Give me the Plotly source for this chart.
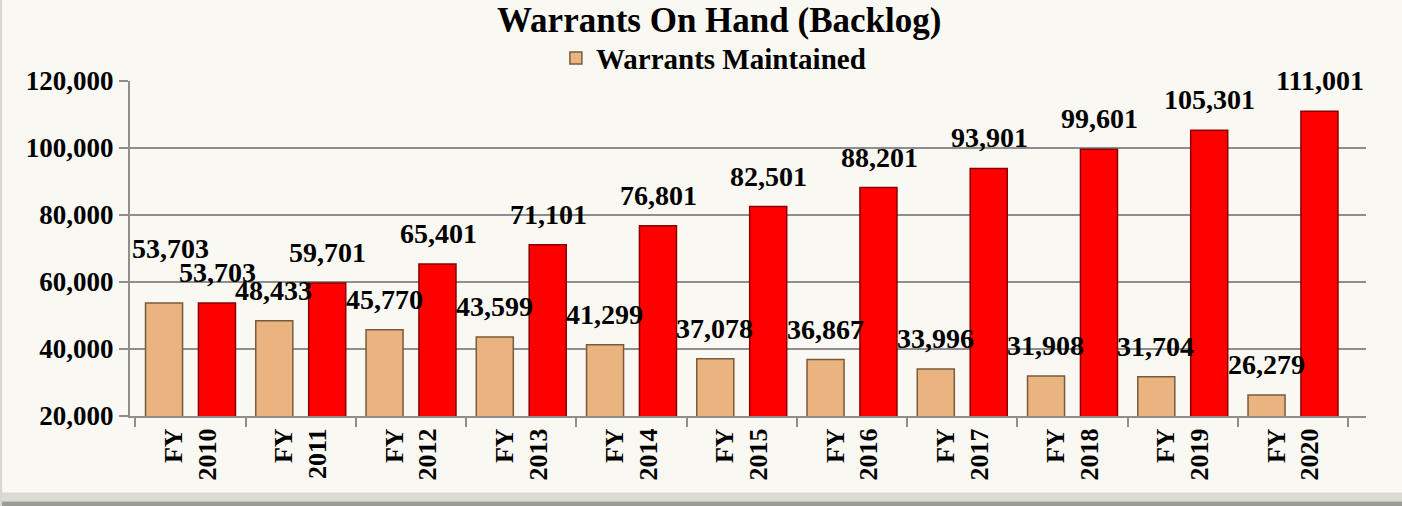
import plotly.graph_objects as go

categories = ["FY<br>2010", "FY<br>2011", "FY<br>2012", "FY<br>2013", "FY<br>2014", "FY<br>2015",
              "FY<br>2016", "FY<br>2017", "FY<br>2018", "FY<br>2019", "FY<br>2020"]
maintained = [53703, 48433, 45770, 43599, 41299, 37078, 36867, 33996, 31908, 31704, 26279]
backlog = [53703, 59701, 65401, 71101, 76801, 82501, 88201, 93901, 99601, 105301, 111001]
ytick_vals = [20000, 40000, 60000, 80000, 100000, 120000]
ytick_text = ["20,000", "40,000", "60,000", "80,000", "100,000", "120,000"]

FONT = "Liberation Serif"
BG = "#FAF8F2"
GRID = "#8E8E8E"

fig = go.Figure()
fig.add_trace(go.Bar(
    x=categories, y=maintained, name="Warrants Maintained",
    marker=dict(color="#E9B480", line=dict(color="#7A5A3C", width=1.5)),
    showlegend=True,
))
fig.add_trace(go.Bar(
    x=categories, y=backlog, name="Warrants On Hand",
    marker=dict(color="#FF0000", line=dict(color="#8A0000", width=1.5)),
    showlegend=False,
))

annotations = []
for i, (c, v) in enumerate(zip(categories, maintained)):
    annotations.append(dict(
        x=c, y=v, xref="x", yref="y", text=f"{v:,}", showarrow=False,
        yanchor="bottom", xshift=-27 + (7 if i == 0 else 0), yshift=13 + (24 if i == 0 else 0),
        font=dict(family=FONT, size=28, color="#000000"),
    ))
for c, v in zip(categories, backlog):
    annotations.append(dict(
        x=c, y=v, xref="x", yref="y", text=f"{v:,}", showarrow=False,
        yanchor="bottom", xshift=27, yshift=13,
        font=dict(family=FONT, size=28, color="#000000"),
    ))

fig.update_layout(
    width=1402, height=506,
    paper_bgcolor=BG, plot_bgcolor=BG,
    margin=dict(l=130, r=36, t=81, b=90, autoexpand=False),
    barmode="group", bargap=0.04, bargroupgap=0.3,
    font=dict(family=FONT, color="#000000"),
    title=dict(text="<b>Warrants On Hand (Backlog)</b>", x=0.513, xanchor="center",
               yref="container", y=0.96, yanchor="middle",
               font=dict(family=FONT, size=35, color="#000000")),
    legend=dict(orientation="h", x=0.472, xanchor="center", yref="container", y=0.885, yanchor="middle",
                font=dict(family=FONT, size=29, color="#000000", weight="bold"),
                bgcolor="rgba(0,0,0,0)"),
    annotations=annotations,
    shapes=[
        dict(type="rect", xref="paper", yref="paper", x0=-0.2, x1=1.1, y0=-0.228, y1=-0.255,
             fillcolor="#DCDAD2", line=dict(width=0), layer="below"),
        dict(type="rect", xref="paper", yref="paper", x0=-0.2, x1=1.1, y0=-0.255, y1=-0.3,
             fillcolor="#9A9A96", line=dict(width=0), layer="below"),
        dict(type="rect", xref="paper", yref="paper", x0=-0.2, x1=-0.1035, y0=-0.3, y1=1.3,
             fillcolor="#D8D6D0", line=dict(width=0), layer="below"),
    ],
)
fig.update_annotations(font_weight="bold")

fig.update_yaxes(
    range=[20000, 120000], tickvals=ytick_vals, ticktext=ytick_text,
    showgrid=True, gridcolor=GRID, gridwidth=2,
    showline=True, linecolor=GRID, linewidth=2,
    ticks="outside", ticklen=9, tickcolor=GRID, tickwidth=2,
    tickfont=dict(family=FONT, size=27, color="#000000", weight="bold"),
    zeroline=False, automargin=False,
)
fig.update_xaxes(
    tickangle=-90, tickson="boundaries", ticks="outside", ticklen=9, tickcolor=GRID, tickwidth=2,
    showline=True, linecolor=GRID, linewidth=2, automargin=False,
    tickfont=dict(family=FONT, size=26, color="#000000", weight="bold"),
)

fig.write_html("out.html", config={"displayModeBar": False},
               post_script="document.body.style.margin='0';document.body.style.background='%s';" % BG)
